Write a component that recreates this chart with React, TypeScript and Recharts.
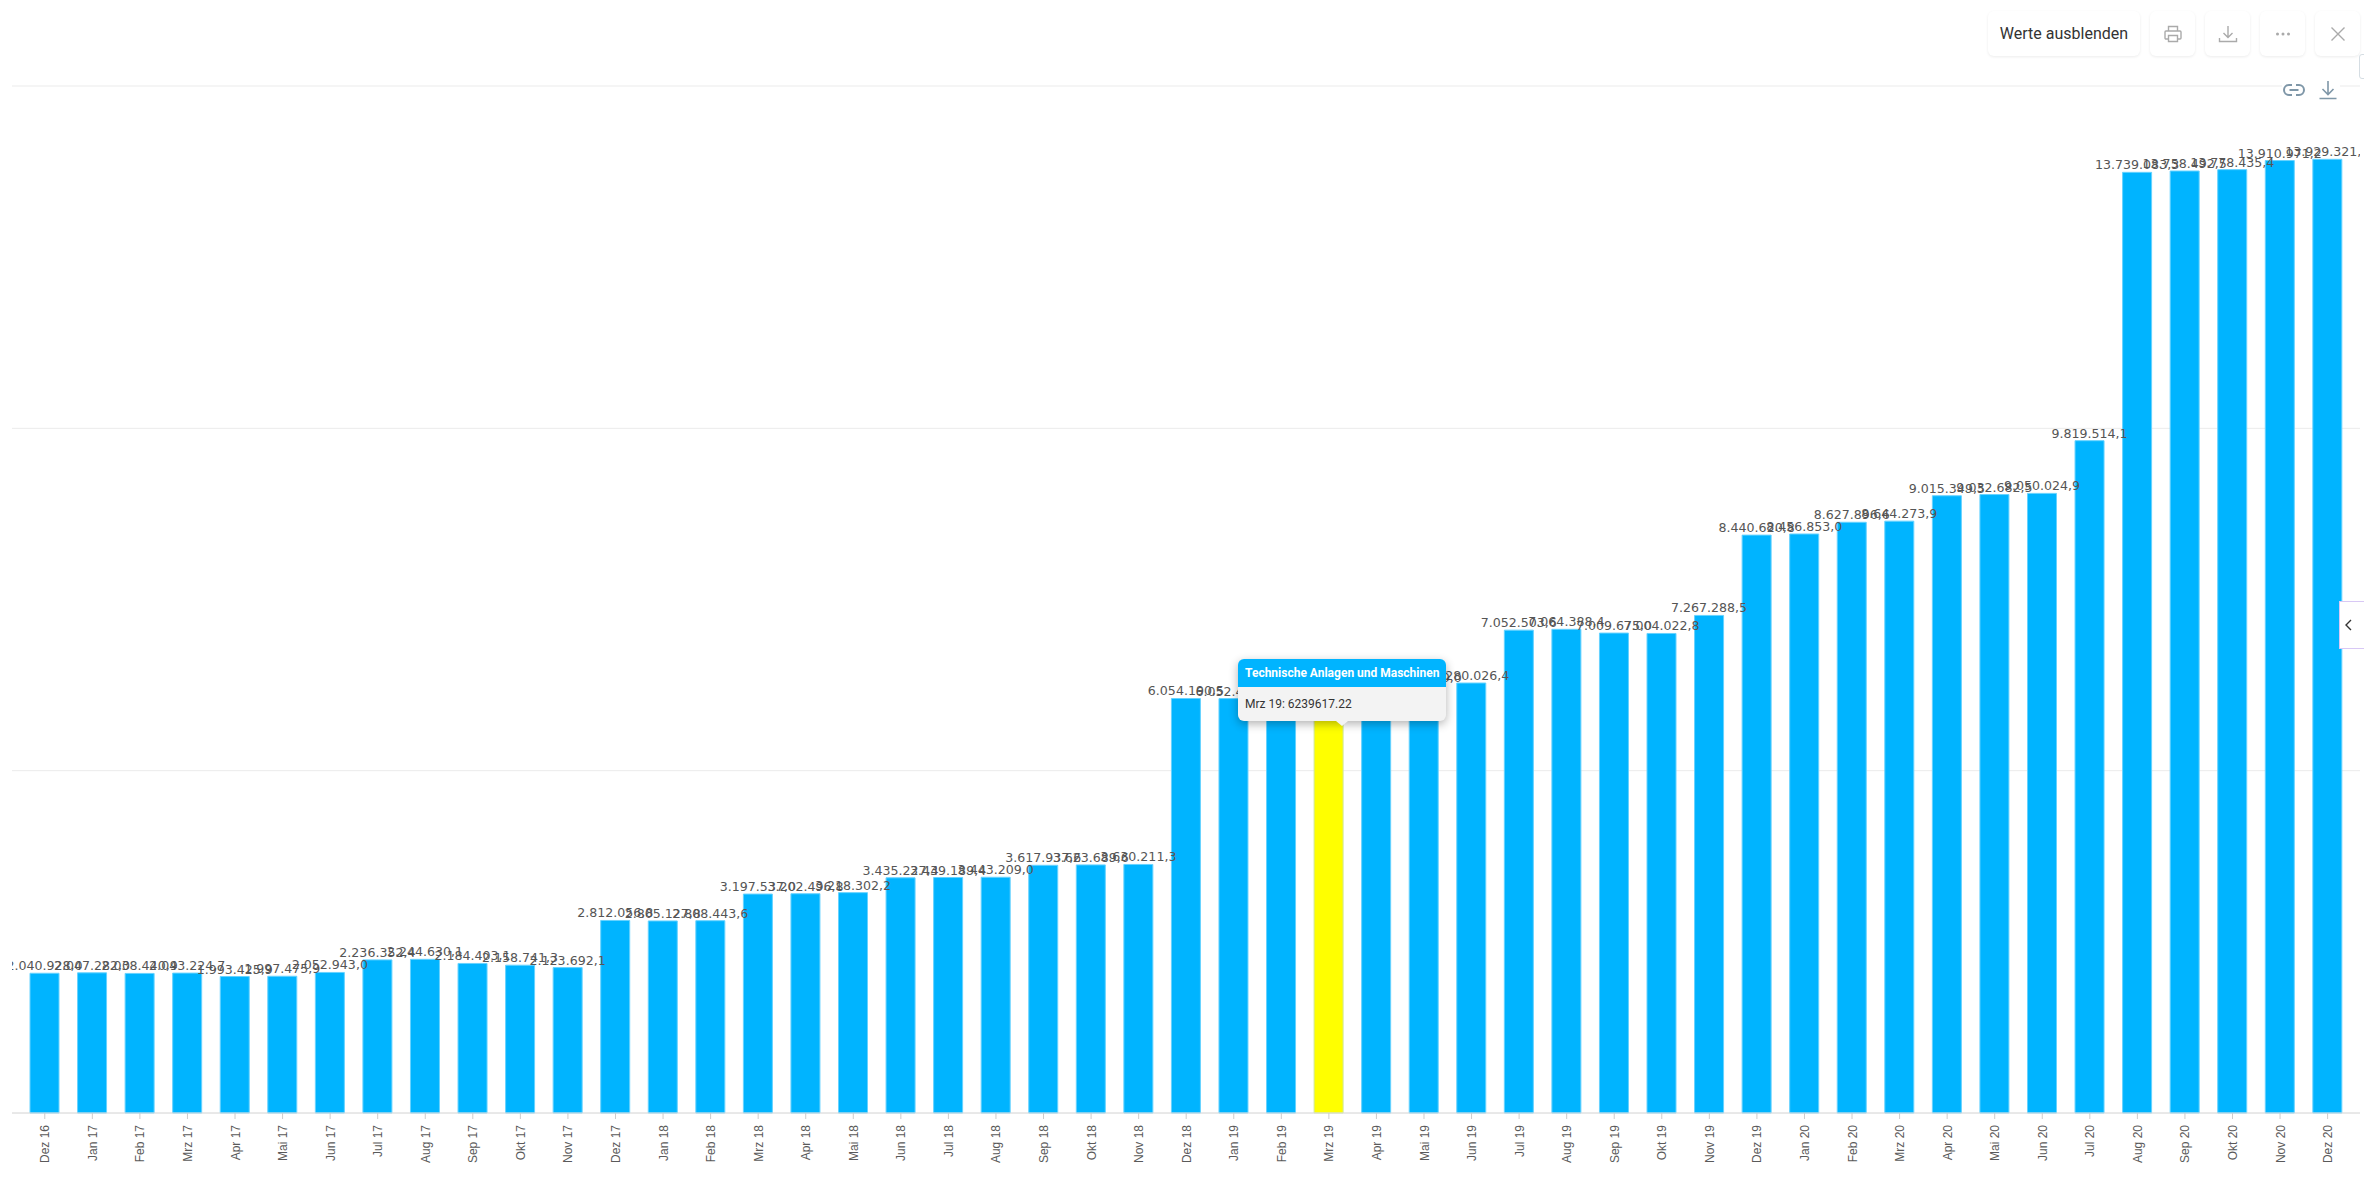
import { BarChart, Bar, Cell, XAxis, YAxis, CartesianGrid, Tooltip, LabelList } from 'recharts'

const months = [
  'Dez 16', 'Jan 17', 'Feb 17', 'Mrz 17', 'Apr 17', 'Mai 17', 'Jun 17', 'Jul 17', 'Aug 17', 'Sep 17', 'Okt 17', 'Nov 17',
  'Dez 17', 'Jan 18', 'Feb 18', 'Mrz 18', 'Apr 18', 'Mai 18', 'Jun 18', 'Jul 18', 'Aug 18', 'Sep 18', 'Okt 18', 'Nov 18',
  'Dez 18', 'Jan 19', 'Feb 19', 'Mrz 19', 'Apr 19', 'Mai 19', 'Jun 19', 'Jul 19', 'Aug 19', 'Sep 19', 'Okt 19', 'Nov 19',
  'Dez 19', 'Jan 20', 'Feb 20', 'Mrz 20', 'Apr 20', 'Mai 20', 'Jun 20', 'Jul 20', 'Aug 20', 'Sep 20', 'Okt 20', 'Nov 20', 'Dez 20',
]

const values = [
  2040928.0, 2047282.0, 2038440.9, 2043224.7, 1993425.9, 1997475.9, 2052943.0, 2236352.4, 2244630.1, 2184403.1, 2158741.3, 2123692.1,
  2812056.8, 2805127.8, 2808443.6, 3197537.0, 3202496.8, 3218302.2, 3435227.4, 3439189.4, 3443209.0, 3617937.6, 3623689.6, 3630211.3,
  6054190.5, 6052480.0, 6230000.0, 6239617.22, 6245000.0, 6258300.0, 6280026.4, 7052503.6, 7064388.4, 7009675.0, 7004022.8, 7267288.5,
  8440620.8, 8456853.0, 8627896.6, 8644273.9, 9015349.5, 9032682.5, 9050024.9, 9819514.1, 13739083.3, 13758492.5, 13778435.4, 13910971.2, 13929321.2,
]

const yTicks = [0, 5000000, 10000000, 15000000]
const seriesName = 'Technische Anlagen und Maschinen'
const selectedIndex = 27

const data = months.map((month, i) => ({ month, value: values[i] }))

const formatLabel = (v: any) =>
  Number(v).toLocaleString('de-DE', { minimumFractionDigits: 1, maximumFractionDigits: 1 })

function ChartTooltip({ payload }: any) {
  const row = payload && payload[0]
  if (!row) return null
  return (
    <div style={{ position: 'relative', width: 208, height: 62, fontFamily: 'Roboto', fontSize: 12, borderRadius: 6, background: '#f3f3f3', boxShadow: '0 3px 10px rgba(0,0,0,0.3)' }}>
      <div style={{ height: 28, lineHeight: '28px', paddingLeft: 7, background: '#00b4ff', color: '#fff', fontWeight: 700, borderRadius: '6px 6px 0 0', whiteSpace: 'nowrap' }}>
        {seriesName}
      </div>
      <div style={{ height: 34, lineHeight: '34px', paddingLeft: 7, color: '#333' }}>
        {row.payload.month}: {row.value}
      </div>
      <div style={{ position: 'absolute', left: 98, top: 62, width: 0, height: 0, borderLeft: '6px solid transparent', borderRight: '6px solid transparent', borderTop: '5px solid #f3f3f3' }} />
    </div>
  )
}

const btn = {
  position: 'absolute', top: 11, height: 45, background: '#fff', borderRadius: 6, boxSizing: 'border-box',
  boxShadow: '0 1px 3px rgba(0,0,0,0.08)', display: 'flex', alignItems: 'center', justifyContent: 'center',
} as const

function IconButton({ left, children }: any) {
  return (
    <div style={{ ...btn, left, width: 45 }}>
      <svg width="20" height="20" viewBox="0 0 20 20" fill="none" stroke="#aaaaaa" strokeWidth="1.4">{children}</svg>
    </div>
  )
}

export default function App() {
  return (
    <div style={{ position: 'absolute', left: 0, top: 0, width: 2364, height: 1180, background: '#fff', overflow: 'hidden' }}>
      <div style={{ position: 'absolute', left: 12, top: 0 }}>
        <BarChart width={2348} height={1180} data={data} margin={{ top: 86, right: 0, bottom: 7, left: 0 }}>
          <CartesianGrid vertical={false} stroke="#ebebeb" />
          <XAxis
            dataKey="month"
            interval={0}
            height={60}
            padding={{ left: 9, right: 8.6 }}
            axisLine={{ stroke: '#dcdcdc' }}
            tickLine={{ stroke: '#cccccc' }}
            tickSize={6}
            tickMargin={6}
            angle={-90}
            textAnchor="end"
            verticalAnchor="middle"
            tick={{ fontSize: 12, fill: '#5a5a5a', fontFamily: 'Liberation Sans', dx: -4 }}
          />
          <YAxis hide domain={[0, 15000000]} ticks={yTicks} />
          <Tooltip
            active
            defaultIndex={selectedIndex}
            cursor={false}
            isAnimationActive={false}
            position={{ x: 1226, y: 659 }}
            wrapperStyle={{ zIndex: 5, outline: 'none' }}
            content={<ChartTooltip />}
          />
          <Bar dataKey="value" barSize={29} fill="#00b4ff" stroke="#66d2ff" strokeWidth={1} activeBar={false} isAnimationActive={false}>
            {data.map((d, i) => (
              <Cell key={d.month} fill={i === selectedIndex ? '#ffff00' : '#00b4ff'} stroke={i === selectedIndex ? '#cfe89a' : '#66d2ff'} />
            ))}
            <LabelList
              dataKey="value"
              position="top"
              offset={3}
              formatter={formatLabel}
              style={{ fontSize: 12.6, fill: '#555', fontFamily: 'DejaVu Sans', stroke: 'none' }}
            />
          </Bar>
        </BarChart>
      </div>

      <div style={{ ...btn, left: 1988, width: 152, fontFamily: 'Roboto', fontSize: 16, color: '#333' }}>Werte ausblenden</div>
      <IconButton left={2150}>
        <path d="M5.5 7V2.5h9V7M5.5 15H3a1 1 0 0 1-1-1V8a1 1 0 0 1 1-1h14a1 1 0 0 1 1 1v6a1 1 0 0 1-1 1h-2.500" />
        <path d="M5.500 11.500h9v6h-9z" />
      </IconButton>
      <IconButton left={2205}>
        <path d="M10 2v11M5.500 9l4.500 4.500L14.500 9M1.500 14v3.500h17V14" />
      </IconButton>
      <IconButton left={2260}>
        <circle cx="4.500" cy="10" r="0.8" fill="#aaaaaa" />
        <circle cx="10" cy="10" r="0.8" fill="#aaaaaa" />
        <circle cx="15.500" cy="10" r="0.8" fill="#aaaaaa" />
      </IconButton>
      <IconButton left={2315}>
        <path d="M3.500 3.500l13 13M16.500 3.500l-13 13" />
      </IconButton>

      <div style={{ position: 'absolute', left: 2359, top: 54, width: 12, height: 23, border: '1px solid #d5dde3', borderRadius: 3, background: '#fff' }} />

      <div style={{ position: 'absolute', left: 2282, top: 74, width: 58, height: 30, background: '#fff' }} />
      <svg style={{ position: 'absolute', left: 2283, top: 79 }} width="22" height="22" viewBox="0 0 22 22" fill="none" stroke="#7f97a8" strokeWidth="2">
        <path d="M9 6H6a5 5 0 0 0 0 10h3M13 6h3a5 5 0 0 1 0 10h-3M6.500 11h9" />
      </svg>
      <svg style={{ position: 'absolute', left: 2318, top: 79 }} width="20" height="22" viewBox="0 0 20 22" fill="none" stroke="#7f97a8" strokeWidth="1.600">
        <path d="M10 2v13M4.500 10l5.500 5.500L15.500 10M1.500 19.500h17" />
      </svg>

      <div style={{ position: 'absolute', left: 2339, top: 601, width: 27, height: 48, background: '#fff', border: '1px solid #d8c8f5', boxSizing: 'border-box' }}>
        <svg style={{ position: 'absolute', left: 3, top: 16 }} width="12" height="14" viewBox="0 0 12 14" fill="none" stroke="#333" strokeWidth="1.400">
          <path d="M8 2L3 7l5 5" />
        </svg>
      </div>
    </div>
  )
}
